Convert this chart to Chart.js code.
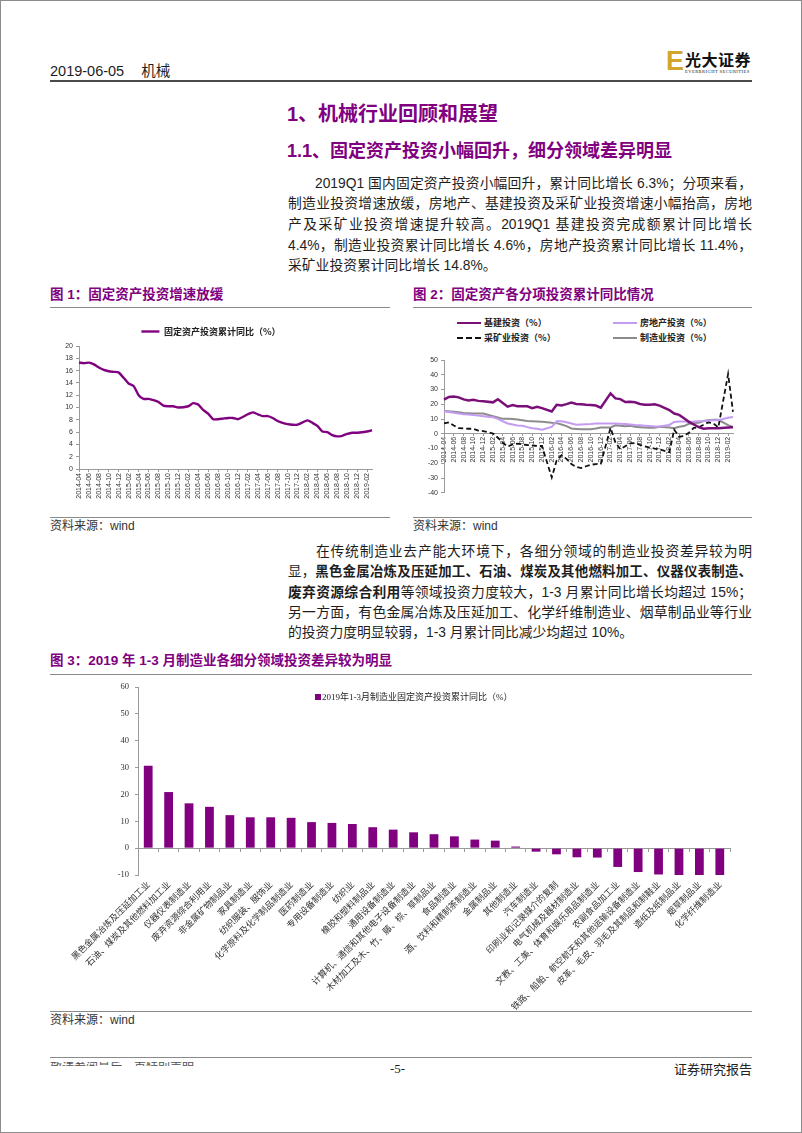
<!DOCTYPE html>
<html>
<head>
<meta charset="utf-8">
<script src="https://cdn.jsdelivr.net/npm/chart.js@4.4.1/dist/chart.umd.min.js"></script>
<style>
  html, body { margin: 0; padding: 0; background: #fff; }
  #page { position: relative; width: 802px; height: 1133px; overflow: hidden;
          font-family: "Liberation Sans", "Noto Sans CJK SC", sans-serif; color: #1e1e1e; }
  #frame { position: absolute; left: 0; top: 0; width: 800px; height: 1131px; border: 1px solid #8c8c8c; }
  .a { position: absolute; white-space: nowrap; }
  .rule { position: absolute; height: 0; border-top: 1px solid #8a8a8a; }
  .purple { color: #800080; font-weight: bold; }
  .ln { position: absolute; font-size: 13.8px; line-height: 20px; height: 20px;
        text-align: justify; text-align-last: justify; }
  .ln.last { text-align: left; text-align-last: left; }
  .ln.tight { font-size: 13.4px; }
  .fig { font-size: 13.5px; line-height: 18px; }
  .src { font-size: 12px; line-height: 14px; color: #333; }
  .lg { position: absolute; font: bold 9px "Noto Sans CJK SC", sans-serif; color: #222; line-height: 12px; white-space: nowrap; }
  .lg i { display: inline-block; width: 24px; height: 0; vertical-align: middle; margin-right: 3px; position: relative; top: -1px; }
  canvas { position: absolute; }
</style>
</head>
<body>
<div id="page">
  <div id="frame"></div>

  <!-- header -->
  <div class="a" style="left:50px;top:62px;font-size:14.5px;line-height:18px;">2019-06-05<span style="display:inline-block;width:17px"></span>机械</div>
  <div class="a" style="left:666px;top:46px;font:bold 27px 'Liberation Sans',sans-serif;color:#d2a62c;line-height:30px;">E</div>
  <div class="a" style="left:685px;top:50px;font:bold 16px 'Noto Sans CJK SC',sans-serif;line-height:18px;letter-spacing:0.5px;color:#111;">光大证券</div>
  <div class="a" style="left:685px;top:69px;font:4.6px 'Liberation Serif',serif;line-height:6px;letter-spacing:0.4px;color:#222;">EVERBRIGHT SECURITIES</div>
  <div class="rule" style="left:50px;top:80px;width:702px;border-top:2px solid #4a4a4a;"></div>

  <!-- headings -->
  <div class="a purple" style="left:287px;top:101px;font-size:20px;line-height:26px;">1、机械行业回顾和展望</div>
  <div class="a purple" style="left:287px;top:139px;font-size:18px;line-height:24px;">1.1、固定资产投资小幅回升，细分领域差异明显</div>

  <!-- paragraph 1 -->
  <div class="ln" style="left:315px;top:174px;width:437px;">2019Q1 国内固定资产投资小幅回升，累计同比增长 6.3%；分项来看，</div>
  <div class="ln" style="left:288px;top:194px;width:464px;">制造业投资增速放缓，房地产、基建投资及采矿业投资增速小幅抬高，房地</div>
  <div class="ln" style="left:288px;top:215px;width:464px;">产及采矿业投资增速提升较高。2019Q1 基建投资完成额累计同比增长</div>
  <div class="ln" style="left:288px;top:236px;width:464px;">4.4%，制造业投资累计同比增长 4.6%，房地产投资累计同比增长 11.4%，</div>
  <div class="ln last" style="left:288px;top:256px;width:464px;">采矿业投资累计同比增长 14.8%。</div>

  <!-- figure 1 / 2 titles -->
  <div class="a purple fig" style="left:50px;top:286px;">图 1：固定资产投资增速放缓</div>
  <div class="a purple fig" style="left:413px;top:286px;">图 2：固定资产各分项投资累计同比情况</div>
  <div class="rule" style="left:50px;top:307px;width:340px;"></div>
  <div class="rule" style="left:413px;top:307px;width:339px;"></div>

  <canvas id="c1" width="342" height="202" style="left:50px;top:310px;"></canvas>

  <div class="lg" style="left:457px;top:317px;"><i style="border-top:2.5px solid #7a0f7a"></i>基建投资（%）</div>
  <div class="lg" style="left:613px;top:317px;"><i style="border-top:2px solid #c39bf0"></i>房地产投资（%）</div>
  <div class="lg" style="left:457px;top:332px;"><i style="border-top:2px dashed #111"></i>采矿业投资（%）</div>
  <div class="lg" style="left:613px;top:332px;"><i style="border-top:2px solid #8c8c8c"></i>制造业投资（%）</div>
  <canvas id="c2" width="339" height="155" style="left:413px;top:345px;"></canvas>

  <div class="rule" style="left:50px;top:517px;width:340px;"></div>
  <div class="rule" style="left:413px;top:517px;width:339px;"></div>
  <div class="a src" style="left:50px;top:519px;">资料来源：wind</div>
  <div class="a src" style="left:413px;top:519px;">资料来源：wind</div>

  <!-- paragraph 2 -->
  <div class="ln" style="left:316px;top:542px;width:436px;">在传统制造业去产能大环境下，各细分领域的制造业投资差异较为明</div>
  <div class="ln tight" style="left:288px;top:562px;width:464px;">显，<b>黑色金属冶炼及压延加工、石油、煤炭及其他燃料加工、仪器仪表制造、</b></div>
  <div class="ln" style="left:288px;top:583px;width:464px;"><b>废弃资源综合利用</b>等领域投资力度较大，1-3 月累计同比增长均超过 15%；</div>
  <div class="ln" style="left:288px;top:603px;width:464px;">另一方面，有色金属冶炼及压延加工、化学纤维制造业、烟草制品业等行业</div>
  <div class="ln last" style="left:288px;top:623px;width:464px;">的投资力度明显较弱，1-3 月累计同比减少均超过 10%。</div>

  <!-- figure 3 -->
  <div class="a purple fig" style="left:50px;top:652px;">图 3：2019 年 1-3 月制造业各细分领域投资差异较为明显</div>
  <div class="rule" style="left:50px;top:674px;width:702px;"></div>
  <canvas id="c3" width="702" height="334" style="left:50px;top:676px;"></canvas>
  <div class="a" style="left:315px;top:691px;font:9px 'Liberation Serif','Noto Sans CJK SC',serif;line-height:12px;color:#222;"><span style="display:inline-block;width:6px;height:6px;background:#800080;margin-right:1px;"></span>2019年1-3月制造业固定资产投资累计同比（%）</div>
  <div class="rule" style="left:50px;top:1011px;width:702px;"></div>
  <div class="a src" style="left:50px;top:1013px;">资料来源：wind</div>

  <!-- footer -->
  <div class="rule" style="left:50px;top:1057px;width:702px;"></div>
  <div class="a" style="left:50px;top:1062px;height:4px;overflow:hidden;"><div style="font-size:12px;line-height:12px;color:#555;">敬请参阅最后一页特别声明</div></div>
  <div class="a" style="left:390px;top:1061px;font:13px 'Liberation Serif',serif;line-height:16px;">-5-</div>
  <div class="a" style="left:672px;top:1060px;width:80px;text-align:right;font:13px 'Noto Sans CJK SC',serif;line-height:18px;color:#222;">证券研究报告</div>
</div>

<script>
// monthly categories, 2014-04 .. 2019-03
const months = [
  '2014-04','2014-05','2014-06','2014-07','2014-08','2014-09','2014-10','2014-11','2014-12',
  '2015-01','2015-02','2015-03','2015-04','2015-05','2015-06','2015-07','2015-08','2015-09','2015-10','2015-11','2015-12',
  '2016-01','2016-02','2016-03','2016-04','2016-05','2016-06','2016-07','2016-08','2016-09','2016-10','2016-11','2016-12',
  '2017-01','2017-02','2017-03','2017-04','2017-05','2017-06','2017-07','2017-08','2017-09','2017-10','2017-11','2017-12',
  '2018-01','2018-02','2018-03','2018-04','2018-05','2018-06','2018-07','2018-08','2018-09','2018-10','2018-11','2018-12',
  '2019-01','2019-02','2019-03'
];

// fig 1: total fixed asset investment, cumulative yoy (%)  (no January prints)
const faiTotal = [
  17.3, 17.2, 17.3, 17.0, 16.5, 16.1, 15.9, 15.8, 15.7,
  null, 13.9, 13.5, 12.0, 11.4, 11.4, 11.2, 10.9, 10.3, 10.2, 10.2, 10.0,
  null, 10.2, 10.7, 10.5, 9.6, 9.0, 8.1, 8.1, 8.2, 8.3, 8.3, 8.1,
  null, 8.9, 9.2, 8.9, 8.6, 8.6, 8.3, 7.8, 7.5, 7.3, 7.2, 7.2,
  null, 7.9, 7.5, 7.0, 6.1, 6.0, 5.5, 5.3, 5.4, 5.7, 5.9, 5.9,
  null, 6.1, 6.3
];

// fig 2: components
const infra = [
  23.1, 25.0, 25.3, 24.7, 23.3, 22.5, 23.1, 22.3, 22.0,
  null, 21.3, 23.4, 20.9, 18.4, 19.4, 18.6, 18.7, 18.6, 17.4, 18.3, 17.4,
  null, 15.1, 19.6, 19.2, 20.1, 21.1, 20.2, 20.0, 19.7, 19.5, 19.1, 17.7,
  null, 27.4, 24.0, 23.5, 21.5, 21.7, 21.3, 20.2, 19.7, 19.7, 20.0, 19.1,
  null, 16.1, 13.7, 12.8, 10.5, 8.1, 6.3, 4.5, 3.4, 3.8, 3.8, 3.8,
  null, 4.3, 4.4
];
const realEstate = [
  15.2, 14.8, 14.3, 13.8, 13.3, 13.0, 12.8, 12.3, 11.9,
  null, 11.2, 10.1, 8.5, 7.0, 6.3, 5.6, 5.4, 4.5, 3.8, 3.4, 2.7,
  null, 4.7, 8.5, 8.5, 7.8, 7.0, 6.1, 6.3, 6.5, 6.7, 7.0, 7.0,
  null, 7.0, 7.0, 6.8, 6.6, 6.3, 6.0, 5.8, 5.5, 5.2, 5.0, 5.0,
  null, 6.0, 8.0, 8.3, 8.3, 8.2, 8.3, 8.5, 8.7, 9.0, 9.2, 9.2,
  null, 10.8, 11.4
];
const mining = [
  7.0, 7.8, 5.6, 3.8, 3.6, 3.4, 3.4, 2.2, 1.8,
  null, 0.2, -2.7, -6.1, -8.7, -7.2, -6.7, -7.2, -7.6, -7.8, -8.3, -8.3,
  null, -29.6, -18.0, -14.5, -17.0, -20.5, -22.5, -23.2, -22.0, -21.0, -20.5, -20.4,
  null, 4.0, -6.0, -10.5, -8.5, -6.5, -6.3, -7.5, -8.5, -9.3, -10.0, -10.5,
  null, -12.5, 2.8, -2.0, -1.5, 0.7, 4.0, 4.5, 6.1, 7.8, 7.0, 4.3,
  null, 40.5, 14.8
];
const manufacturing = [
  15.5, 15.2, 15.0, 14.6, 14.1, 13.9, 13.7, 13.7, 13.7,
  null, 11.9, 11.0, 10.1, 10.1, 10.0, 9.6, 9.2, 8.7, 8.5, 8.3, 8.1,
  null, 7.4, 7.2, 6.3, 5.2, 3.6, 3.3, 3.0, 3.1, 3.1, 3.6, 4.2,
  null, 4.3, 5.8, 5.4, 5.1, 5.5, 4.8, 4.5, 4.2, 4.1, 4.1, 4.8,
  null, 4.3, 3.8, 4.8, 5.2, 6.8, 7.3, 7.5, 8.7, 9.1, 9.5, 9.5,
  null, 5.9, 4.6
];

// fig 3: manufacturing sub-sectors, 2019 Jan-Mar cumulative yoy (%)
const sectors = [
  '黑色金属冶炼及压延加工业', '石油、煤炭及其他燃料加工业', '仪器仪表制造业', '废弃资源综合利用业',
  '非金属矿物制品业', '家具制造业', '纺织服装、服饰业', '化学原料及化学制品制造业', '医药制造业',
  '专用设备制造业', '纺织业', '橡胶和塑料制品业', '通用设备制造业', '计算机、通信和其他电子设备制造业',
  '木材加工及木、竹、藤、棕、草制品业', '食品制造业', '酒、饮料和精制茶制造业', '金属制品业', '其他制造业',
  '汽车制造业', '印刷业和记录媒介的复制', '电气机械及器材制造业', '文教、工美、体育和娱乐用品制造业',
  '农副食品加工业', '铁路、船舶、航空航天和其他运输设备制造业', '皮革、毛皮、羽毛及其制品和制鞋业',
  '造纸及纸制品业', '烟草制品业', '化学纤维制造业'
];
const sectorYoy = [
  30.7, 20.9, 16.7, 15.4, 12.3, 11.5, 11.5, 11.3, 9.7, 9.4, 9.0, 7.8, 6.9, 5.9, 5.2,
  4.4, 3.2, 2.8, 0.6, -1.3, -2.3, -3.4, -3.5, -7.0, -8.9, -9.8, -10.0, -10.2, -10.2
];

const PURPLE = '#800080';
const AXIS = '#9a9a9a';
const SANS = '"Liberation Sans", Arial, sans-serif';
const SERIF = '"Liberation Serif", "Times New Roman", serif';
const CJK = '"Noto Sans CJK SC", sans-serif';

Chart.defaults.animation = false;
Chart.defaults.plugins.tooltip.enabled = false;

const evenOnly = (v, i) => (i % 2 ? null : months[i]);

// figure 1
new Chart(document.getElementById('c1'), {
  type: 'line',
  data: {
    labels: months,
    datasets: [{
      label: '固定资产投资累计同比（%）',
      data: faiTotal,
      borderColor: PURPLE,
      backgroundColor: PURPLE,
      borderWidth: 2.4,
      pointRadius: 0,
      spanGaps: true,
      tension: 0.2
    }]
  },
  options: {
    responsive: false,
    layout: { padding: { top: 11, right: 20, left: 0, bottom: 0 } },
    plugins: {
      legend: {
        labels: {
          usePointStyle: true, pointStyle: 'line', pointStyleWidth: 18,
          padding: 6, color: '#222',
          font: { size: 9, weight: 'bold', family: CJK }
        }
      }
    },
    scales: {
      x: {
        grid: { drawOnChartArea: false, tickLength: 3, color: AXIS },
        border: { color: AXIS },
        ticks: { autoSkip: false, minRotation: 90, maxRotation: 90, padding: 1,
                 color: '#333', font: { size: 7, family: SANS }, callback: evenOnly },
        afterFit: s => { s.height = 43; }
      },
      y: {
        min: 0, max: 20,
        grid: { drawOnChartArea: false, tickLength: 3, color: AXIS },
        border: { color: AXIS },
        ticks: { stepSize: 2, padding: 3, color: '#333', font: { size: 7, family: SANS } },
        afterFit: s => { s.width = 29; }
      }
    }
  }
});

// figure 2
new Chart(document.getElementById('c2'), {
  type: 'line',
  data: {
    labels: months,
    datasets: [
      { label: '基建投资（%）', data: infra, borderColor: '#7a0f7a', borderWidth: 2.5 },
      { label: '房地产投资（%）', data: realEstate, borderColor: '#c39bf0', borderWidth: 2 },
      { label: '采矿业投资（%）', data: mining, borderColor: '#111', borderWidth: 1.8, borderDash: [5, 3] },
      { label: '制造业投资（%）', data: manufacturing, borderColor: '#8c8c8c', borderWidth: 2 }
    ].map(d => Object.assign(d, { pointRadius: 0, spanGaps: true, tension: 0 }))
  },
  options: {
    responsive: false,
    layout: { padding: { top: 15, right: 19, left: 0, bottom: 6 } },
    plugins: { legend: { display: false } },
    scales: {
      x: {
        position: { y: 0 },
        grid: { drawOnChartArea: false, tickLength: 2, color: AXIS },
        border: { color: AXIS },
        ticks: { autoSkip: false, minRotation: 90, maxRotation: 90, padding: 1,
                 color: '#333', font: { size: 7, family: SANS }, callback: evenOnly },
        afterFit: s => { s.height = 0; }
      },
      y: {
        min: -40, max: 50,
        grid: { drawOnChartArea: false, tickLength: 3, color: AXIS },
        border: { color: AXIS },
        ticks: { stepSize: 10, padding: 3, color: '#333', font: { size: 7, family: SANS } },
        afterFit: s => { s.width = 31; }
      }
    }
  }
});

// figure 3
new Chart(document.getElementById('c3'), {
  type: 'bar',
  data: {
    labels: sectors,
    datasets: [{
      label: '2019年1-3月制造业固定资产投资累计同比（%）',
      data: sectorYoy,
      backgroundColor: PURPLE,
      barPercentage: 0.43,
      categoryPercentage: 1,
      clip: 0
    }]
  },
  options: {
    responsive: false,
    layout: { padding: { top: 6, right: 22, left: 0, bottom: 0 } },
    plugins: { legend: { display: false } },
    scales: {
      x: {
        grid: { display: false, drawTicks: false },
        border: { display: false },
        ticks: { autoSkip: false, minRotation: 45, maxRotation: 45, padding: 4,
                 color: '#333', font: { size: 8.9, family: CJK } },
        afterFit: s => { s.height = 135; }
      },
      x2: {
        position: { y: 0 },
        grid: { drawOnChartArea: false, tickLength: 3, color: AXIS, offset: true },
        border: { color: AXIS },
        ticks: { display: false },
        afterFit: s => { s.height = 0; }
      },
      y: {
        min: -10, max: 60,
        grid: { drawOnChartArea: false, tickLength: 3, color: AXIS },
        border: { color: AXIS },
        ticks: { stepSize: 10, padding: 6, color: '#333', font: { size: 8.5, family: SERIF } },
        afterFit: s => { s.width = 88; }
      }
    }
  }
});
</script>
</body>
</html>
